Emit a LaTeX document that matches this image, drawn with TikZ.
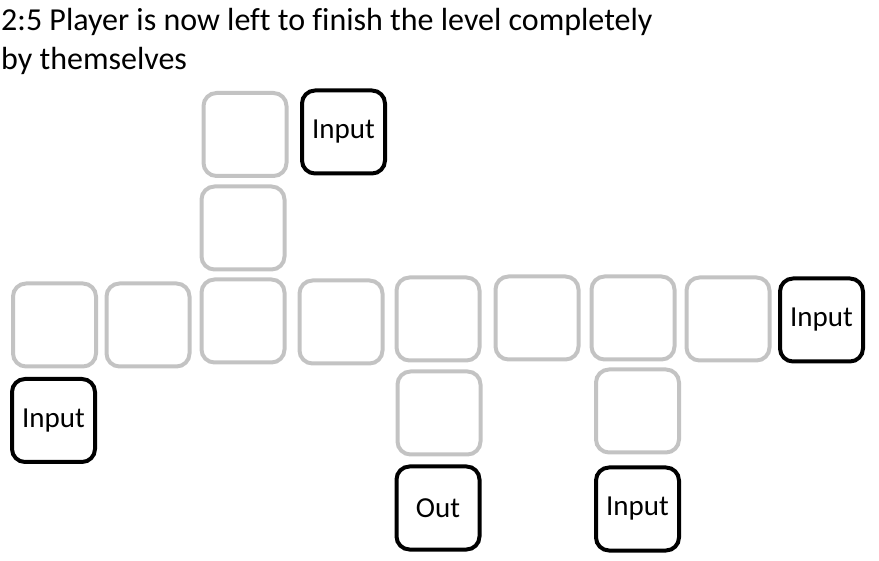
\documentclass[tikz,border=0pt]{standalone}
\usepackage{fontspec}
\setmainfont{Carlito}[Ligatures=NoCommon]
\usetikzlibrary{positioning}
\definecolor{cellgray}{RGB}{195,195,195}
\tikzset{
  cell/.style={draw=cellgray, line width=4pt, rounded corners=13pt, minimum size=83pt, inner sep=0pt},
  port/.style={draw=black, line width=4pt, rounded corners=13pt, minimum size=83pt, inner sep=0pt, font=\fontsize{29}{34}\selectfont},
  caption/.style={anchor=base west, inner sep=0pt, font=\fontsize{32}{38}\selectfont}
}
\begin{document}
\begin{tikzpicture}[x=1pt, y=-1pt]
  \useasboundingbox (0,0) rectangle (879,561);
  % Judul
  \node[caption] (title1) at (1,31) {2:5 Player is now left to finish the level completely};
  \node[caption] (title2) at (1,70) {by themselves};
  % Sel kosong
  \foreach \name/\x/\y in {t1/245/134.5, t2/243/228,
      r1/54.5/325, r2/148/325, r3/243/321, r4/341/322, r5/438/319,
      r6/537/318, r7/633/318, r8/728/319,
      b1/439/413, b2/637.5/411}
    \node[cell] (\name) at (\x,\y) {};
  % Input dan output
  \node[port] (in1) at (343.5,132) {Input};
  \node[port] (in2) at (821.5,320) {Input};
  \node[port] (in3) at (53.5,420.5) {Input};
  \node[port] (out) at (438,508) {Out};
  \node[port] (in4) at (637.5,509) {Input};
\end{tikzpicture}
\end{document}
